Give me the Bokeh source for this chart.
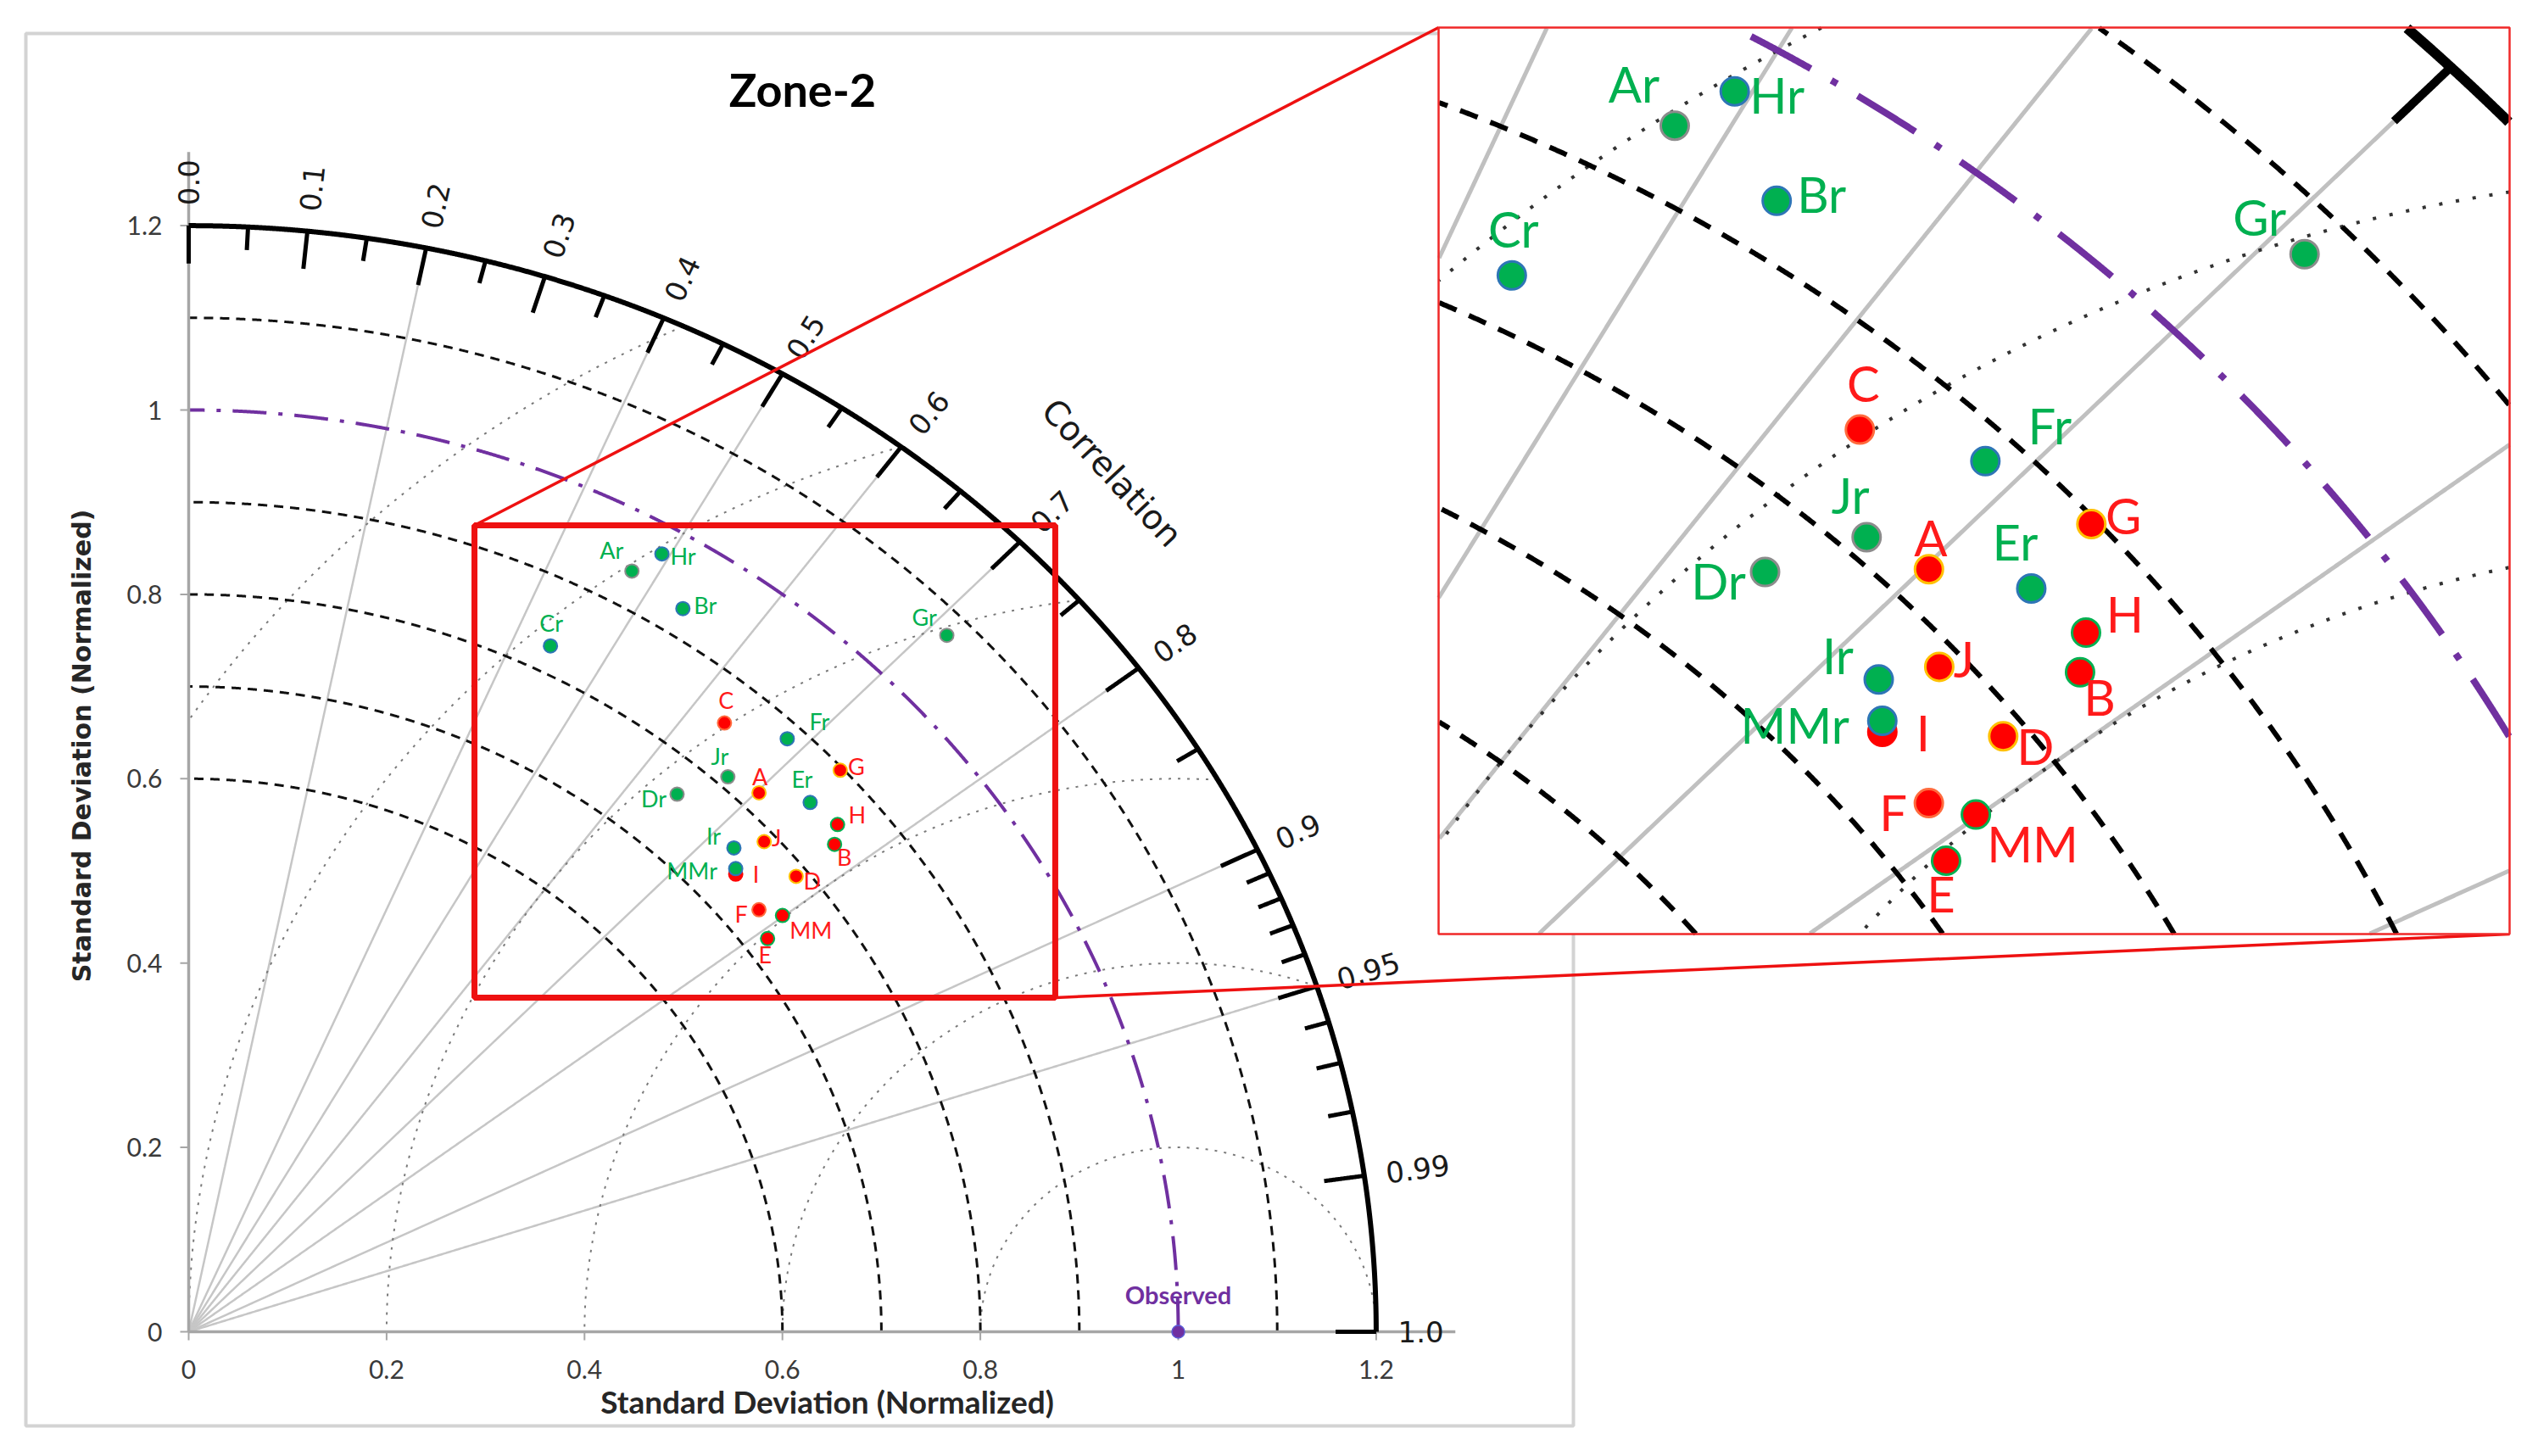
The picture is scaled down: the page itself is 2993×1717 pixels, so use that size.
import numpy as np
from bokeh.plotting import figure
from bokeh.models import Range1d
from bokeh.core.properties import value
from bokeh.embed import file_html
from bokeh.resources import INLINE

# ---------------- chart data (normalized std, correlation) ----------------
red_names = ["A", "B", "C", "D", "E", "F", "G", "H", "I", "J", "MM"]
red_std = [0.821, 0.840, 0.854, 0.788, 0.724, 0.736, 0.897, 0.856, 0.743, 0.788, 0.751]
red_corr = [0.702, 0.777, 0.634, 0.779, 0.808, 0.783, 0.734, 0.766, 0.744, 0.738, 0.799]

green_names = ["Ar", "Br", "Cr", "Dr", "Er", "Fr", "Gr", "Hr", "Ir", "Jr", "MMr"]
green_std = [0.939, 0.930, 0.829, 0.764, 0.851, 0.883, 1.076, 0.970, 0.761, 0.812, 0.747]
green_corr = [0.477, 0.537, 0.441, 0.646, 0.738, 0.685, 0.712, 0.493, 0.724, 0.671, 0.740]

obs_name = "Observed"
obs_std = 1.0
obs_corr = 1.0

std_ticks = [0.0, 0.2, 0.4, 0.6, 0.8, 1.0, 1.2]
std_tick_labels = ["0", "0.2", "0.4", "0.6", "0.8", "1", "1.2"]
corr_major = [0.0, 0.1, 0.2, 0.3, 0.4, 0.5, 0.6, 0.7, 0.8, 0.9, 0.95, 0.99, 1.0]
corr_major_labels = ["0.0", "0.1", "0.2", "0.3", "0.4", "0.5", "0.6", "0.7",
                     "0.8", "0.9", "0.95", "0.99", "1.0"]
corr_minor = [0.05, 0.15, 0.25, 0.35, 0.45, 0.55, 0.65, 0.75, 0.85,
              0.91, 0.92, 0.93, 0.94, 0.96, 0.97, 0.98]
corr_lines = [0.2, 0.4, 0.5, 0.6, 0.7, 0.8, 0.9, 0.95]
std_arcs = [0.6, 0.7, 0.8, 0.9, 1.1]
ref_arc = 1.0
rms_arcs = [0.2, 0.4, 0.6, 0.8, 1.0, 1.2]
std_max = 1.2

zoom_box_x = [0.2888, 0.8757]
zoom_box_y = [0.3625, 0.8749]
inset_view_x = [0.3286, 0.8697]
inset_view_y = [0.3868, 0.8785]

title_text = "Zone-2"
x_title = "Standard Deviation (Normalized)"
y_title = "Standard Deviation (Normalized)"
corr_title = "Correlation"

# ---------------- layout calibration (pixels) ----------------
W, H, OFFSET = 2976, 1700, 0
PX0, PY0 = 222.0, 1570.0
KX, KY = 1167.0, 1087.0


def ux(X):
    return (X - PX0) / KX


def uy(Y):
    return (PY0 - Y) / KY


GREEN = "#00B050"
RED = "#FF0000"
BLUE = "#2E75B6"
ORANGE = "#FFC000"
PURPLE = "#7030A0"
GREYEDGE = "#8C8C8C"
LABEL_RED = "#FF1A1A"
BOXRED = "#EE1111"

EDGE = {"A": ORANGE, "B": GREEN, "C": "#FF6A3D", "D": ORANGE, "E": GREEN, "F": "#FF6A3D",
        "G": ORANGE, "H": GREEN, "I": RED, "J": ORANGE, "MM": GREEN,
        "Ar": GREYEDGE, "Br": BLUE, "Cr": BLUE, "Dr": GREYEDGE, "Er": BLUE, "Fr": BLUE,
        "Gr": GREYEDGE, "Hr": BLUE, "Ir": BLUE, "Jr": GREYEDGE, "MMr": BLUE}

# label offsets in inset pixels (screen, y down); main view uses half
LABEL_OFF = {"Ar": (-48, -50), "Hr": (50, 4), "Br": (53, -8), "Cr": (2, -55), "Gr": (-53, -44),
             "C": (4, -55), "Fr": (76, -42), "G": (38, -10), "Jr": (-19, -50), "A": (2, -38),
             "Er": (-19, -55), "Dr": (-55, 10), "H": (46, -23), "J": (29, -10), "B": (23, 29),
             "Ir": (-48, -29), "MMr": (-103, 4), "I": (48, 0), "D": (38, 11), "F": (-42, 10),
             "MM": (67, 34), "E": (-6, 38)}

p = figure(width=W, height=H,
           x_range=Range1d(ux(OFFSET), ux(OFFSET + W)),
           y_range=Range1d(uy(OFFSET + H), uy(OFFSET)),
           x_axis_type=None, y_axis_type=None, toolbar_location=None,
           output_backend="svg", title=None, min_border=0)
p.outline_line_color = None
p.background_fill_color = "white"
p.border_fill_color = "white"

# inset box in figure data units
BOX = (ux(1696), ux(2959), uy(1101), uy(32))
SCX = (BOX[1] - BOX[0]) / (inset_view_x[1] - inset_view_x[0])
SCY = (BOX[3] - BOX[2]) / (inset_view_y[1] - inset_view_y[0])


def to_inset(x, y):
    x = np.asarray(x, float)
    y = np.asarray(y, float)
    return BOX[0] + (x - inset_view_x[0]) * SCX, BOX[2] + (y - inset_view_y[0]) * SCY


def inside(x, y):
    return (x >= BOX[0]) & (x <= BOX[1]) & (y >= BOX[2]) & (y <= BOX[3])


def draw(x, y, inset=False, **kw):
    x = np.asarray(x, float)
    y = np.asarray(y, float)
    if inset:
        x, y = to_inset(x, y)
        m = inside(x, y)
        if not m.any():
            return
        x = np.where(m, x, np.nan)
        y = np.where(m, y, np.nan)
    p.line(x, y, **kw)


STY = {
    False: dict(radial=dict(line_color="#C6C6C6", line_width=2.5),
                rms=dict(line_color="#7A7A7A", line_width=2, line_dash="3 8"),
                std=dict(line_color="#111111", line_width=3, line_dash="11 8"),
                ref=dict(line_color=PURPLE, line_width=4, line_dash="40 14 5 14"),
                outer=dict(line_color="black", line_width=6),
                tick=dict(line_color="black", line_width=5),
                size=16, lw=2, fs="27px"),
    True: dict(radial=dict(line_color="#C0C0C0", line_width=5),
               rms=dict(line_color="#333333", line_width=4, line_dash="4 16"),
               std=dict(line_color="black", line_width=6, line_dash="22 16"),
               ref=dict(line_color=PURPLE, line_width=8, line_dash="80 28 8 28"),
               outer=dict(line_color="black", line_width=12),
               tick=dict(line_color="black", line_width=10),
               size=33, lw=3, fs="58px"),
}

T = np.linspace(0, np.pi / 2, 2500)


def draw_grid(inset):
    s = STY[inset]
    for c in corr_lines:
        r = np.linspace(0, std_max, 1500)
        draw(r * c, r * np.sqrt(1 - c * c), inset, **s["radial"])
    for rr in rms_arcs:
        t = np.linspace(0, np.pi, 4000)
        x = obs_std + rr * np.cos(t)
        y = rr * np.sin(t)
        m = (x * x + y * y <= std_max ** 2 + 1e-9) & (x >= -1e-9)
        draw(x[m], y[m], inset, **s["rms"])
    for rr in std_arcs:
        draw(rr * np.cos(T), rr * np.sin(T), inset, **s["std"])
    draw(ref_arc * np.cos(T), ref_arc * np.sin(T), inset, **s["ref"])


def draw_outer(inset):
    s = STY[inset]
    draw(std_max * np.cos(T), std_max * np.sin(T), inset, **s["outer"])
    for cs, L in ((corr_major, 0.041), (corr_minor, 0.025)):
        for c in cs:
            th = np.arccos(c)
            r = np.linspace(std_max - L, std_max, 40)
            draw(r * np.cos(th), r * np.sin(th), inset, **s["tick"])


def draw_points(inset):
    s = STY[inset]
    k = 1.0 if inset else 0.5
    groups = [(red_names, red_std, red_corr, RED, LABEL_RED),
              (green_names, green_std, green_corr, GREEN, GREEN)]
    texts = []
    for names, st, co, fill, tc in groups:
        st = np.array(st)
        co = np.array(co)
        x = st * co
        y = st * np.sqrt(1 - co ** 2)
        if inset:
            x, y = to_inset(x, y)
            m = inside(x, y)
        else:
            m = np.ones(len(x), bool)
        edges = [EDGE[n] for n in names]
        idx = np.where(m)[0]
        p.scatter(x[idx], y[idx], size=s["size"], marker="circle", fill_color=fill,
                  line_color=[edges[i] for i in idx], line_width=s["lw"])
        lx = [x[i] + k * LABEL_OFF[names[i]][0] / KX for i in idx]
        ly = [y[i] - k * LABEL_OFF[names[i]][1] / KY for i in idx]
        texts.append((lx, ly, [names[i] for i in idx], tc))
    for lx, ly, tx, tc in texts:
        p.text(lx, ly, text=tx, text_color=tc, text_font=value("Lato"),
               text_font_size=s["fs"], text_align="center", text_baseline="middle")


# ---------------- main chart ----------------
p.quad(left=[ux(30)], right=[ux(1855)], bottom=[uy(1681)], top=[uy(39)],
       fill_color=None, line_color="#D3D3D3", line_width=4)

draw_grid(False)

# cartesian axes
AX = "#A6A6A6"
p.line([0, 1.28], [0, 0], line_color=AX, line_width=3.5)
p.line([0, 0], [0, 1.28], line_color=AX, line_width=3.5)
for v in std_ticks:
    p.line([v, v], [0, -10 / KY], line_color=AX, line_width=2)
    p.line([0, -10 / KX], [v, v], line_color=AX, line_width=2)
p.text(std_ticks, [-44 / KY] * len(std_ticks), text=std_tick_labels, text_color="#3A3A3A",
       text_font=value("Lato"), text_font_size="30px", text_align="center",
       text_baseline="middle")
p.text([-31 / KX] * len(std_ticks), std_ticks, text=std_tick_labels, text_color="#3A3A3A",
       text_font=value("Lato"), text_font_size="30px", text_align="right",
       text_baseline="middle")

draw_outer(False)

# correlation labels
cm = np.array(corr_major)
th = np.arccos(cm)
ang = np.arctan2(KY * np.sin(th), KX * np.cos(th))
r_lab = 1.222
p.text(r_lab * np.cos(th), r_lab * np.sin(th), text=corr_major_labels, angle=ang,
       text_color="#1A1A1A", text_font=value("DejaVu Sans"), text_font_size="34px",
       text_align="left", text_baseline="middle")
ct = np.arctan2(KY * 0.932, KX * 0.933)
p.text([0.933], [0.932], text=[corr_title], angle=[ct - np.pi / 2], text_color="#1A1A1A",
       text_font=value("DejaVu Sans"), text_font_size="40px", text_align="center",
       text_baseline="middle")

# titles
p.text([ux(975)], [uy(1652)], text=[x_title], text_color="#262626", text_font=value("Lato"),
       text_font_style="bold", text_font_size="37px", text_align="center",
       text_baseline="middle")
p.text([ux(96)], [uy(879)], text=[y_title], angle=[np.pi / 2], text_color="#262626",
       text_font=value("DejaVu Sans"), text_font_style="bold", text_font_size="30px",
       text_align="center", text_baseline="middle")
p.text([ux(946)], [uy(105)], text=[title_text], text_color="black", text_font=value("Lato"),
       text_font_style="bold", text_font_size="54px", text_align="center",
       text_baseline="middle")

# observed
ox = obs_std * obs_corr
oy = obs_std * np.sqrt(1 - obs_corr ** 2)
p.scatter([ox], [oy], size=15, marker="circle", fill_color=PURPLE, line_color="#5B5BD6",
          line_width=1.5)
p.text([ox], [oy + 44 / KY], text=[obs_name], text_color=PURPLE, text_font=value("Lato"),
       text_font_style="bold", text_font_size="29px", text_align="center",
       text_baseline="middle")

draw_points(False)

# zoom box and connectors
p.quad(left=[zoom_box_x[0]], right=[zoom_box_x[1]], bottom=[zoom_box_y[0]], top=[zoom_box_y[1]],
       fill_color=None, line_color=BOXRED, line_width=7)
p.line([zoom_box_x[0], BOX[0]], [zoom_box_y[1], BOX[3]], line_color=BOXRED, line_width=3.5)
p.line([zoom_box_x[1], BOX[1]], [zoom_box_y[0], BOX[2]], line_color=BOXRED, line_width=3.5)

# ---------------- inset ----------------
p.quad(left=[BOX[0]], right=[BOX[1]], bottom=[BOX[2]], top=[BOX[3]],
       fill_color="white", line_color=None)
draw_grid(True)
draw_outer(True)
draw_points(True)
p.quad(left=[BOX[0]], right=[BOX[1]], bottom=[BOX[2]], top=[BOX[3]],
       fill_color=None, line_color="#F02828", line_width=2.5)

open("out.html", "w").write(file_html(p, INLINE))
